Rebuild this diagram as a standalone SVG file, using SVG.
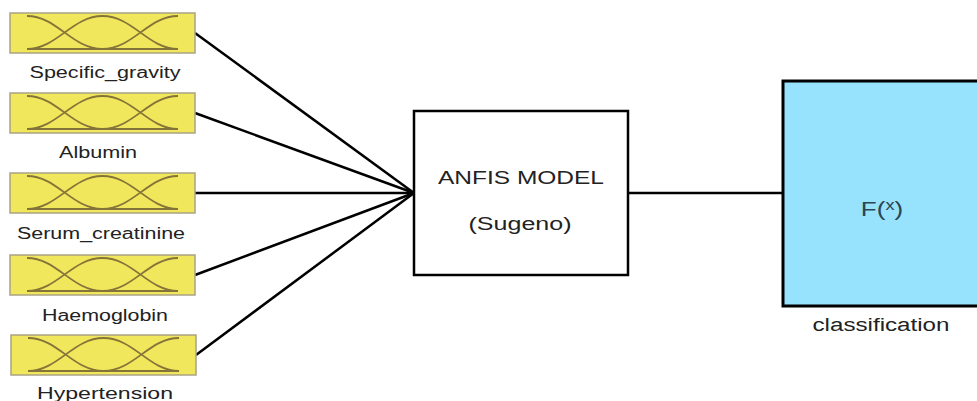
<svg xmlns="http://www.w3.org/2000/svg" xmlns:xlink="http://www.w3.org/1999/xlink" width="977" height="401" viewBox="0 0 977 401">
<style>
.mfbox{fill:#f1e75c;stroke:#a8a285;stroke-width:1.5}
.mf{fill:none;stroke:#85743a;stroke-width:1.8}
.lbl{font-family:"Liberation Sans",Arial,sans-serif;font-size:16px;fill:#222;text-anchor:middle}
.big{font-family:"Liberation Sans",Arial,sans-serif;font-size:18px;fill:#222;text-anchor:middle}
.conn{stroke:#000;stroke-width:2.5;fill:none}
</style>
<defs>
<g id="mfin">
<rect class="mfbox" x="0" y="0" width="185" height="40"/>
<path class="mf" d="M17,3 C47,3 62,36 92.5,36"/>
<path class="mf" d="M17,36 C47,36 62,3 92.5,3 C123,3 138,36 168,36"/>
<path class="mf" d="M92.5,36 C123,36 138,3 168,3"/>
<path class="mf" d="M17,36 H168"/>
</g>
</defs>
<rect width="977" height="401" fill="#fff"/>
<g id="connectors">
<line class="conn" x1="195" y1="33" x2="414" y2="193"/>
<line class="conn" x1="195" y1="113" x2="414" y2="193"/>
<line class="conn" x1="195" y1="193" x2="414" y2="193"/>
<line class="conn" x1="195" y1="275" x2="414" y2="193"/>
<line class="conn" x1="196" y1="355" x2="414" y2="193"/>
<line class="conn" x1="628" y1="193" x2="783" y2="193"/>
</g>
<g id="specific_gravity">
<use xlink:href="#mfin" href="#mfin" x="10" y="13"/>
<text class="lbl" x="105" y="78" textLength="151" lengthAdjust="spacingAndGlyphs">Specific_gravity</text>
</g>
<g id="albumin">
<use xlink:href="#mfin" href="#mfin" x="10" y="93"/>
<text class="lbl" x="98" y="158" textLength="78" lengthAdjust="spacingAndGlyphs">Albumin</text>
</g>
<g id="serum_creatinine">
<use xlink:href="#mfin" href="#mfin" x="10" y="173"/>
<text class="lbl" x="101" y="239" textLength="168" lengthAdjust="spacingAndGlyphs">Serum_creatinine</text>
</g>
<g id="haemoglobin">
<use xlink:href="#mfin" href="#mfin" x="10" y="255"/>
<text class="lbl" x="105" y="321" textLength="126" lengthAdjust="spacingAndGlyphs">Haemoglobin</text>
</g>
<g id="hypertension">
<use xlink:href="#mfin" href="#mfin" x="11" y="335"/>
<text class="lbl" x="105" y="399" textLength="136" lengthAdjust="spacingAndGlyphs">Hypertension</text>
</g>
<g id="anfis">
<rect x="414" y="111" width="214" height="164" fill="#fff" stroke="#000" stroke-width="2.5"/>
<text class="big" x="521" y="184" textLength="166" lengthAdjust="spacingAndGlyphs">ANFIS MODEL</text>
<text class="big" x="520" y="230" textLength="103" lengthAdjust="spacingAndGlyphs">(Sugeno)</text>
</g>
<g id="classification">
<rect x="783" y="81" width="200" height="225" fill="#97e2fc" stroke="#000" stroke-width="3"/>
<text class="big" transform="translate(882,216) scale(1.3,1)" x="0" y="0" font-size="20" style="fill:#2b4650;font-size:20px">F(<tspan style="font-size:14px" dy="-6">x</tspan><tspan dy="6">)</tspan></text>
<text class="big" x="881" y="331" textLength="137" lengthAdjust="spacingAndGlyphs">classification</text>
</g>
</svg>
